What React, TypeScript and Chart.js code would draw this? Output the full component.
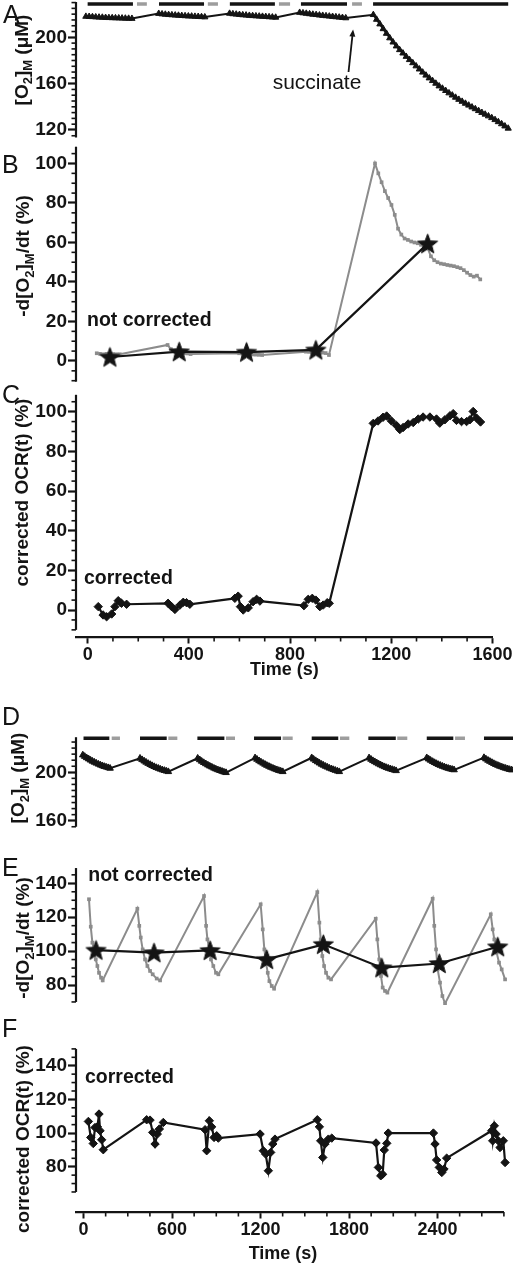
import React, { useEffect, useRef } from "react";
import { Chart, registerables } from "chart.js";

Chart.register(...registerables);

const FONT = '"Liberation Sans", Arial, Helvetica, sans-serif';
const INK = "#141414";
const GRAY = "#8c8c8c";
const BAR_GRAY = "#9d9d9d";

// ================= Panel A : [O2]M trace (time, µM) =================
const aTime = [
  -7, 6, 19, 32, 45, 58, 71, 84, 97, 110, 123, 136, 149, 162, 175,
  281, 294, 307, 320, 333, 346, 359, 372, 385, 398, 411, 424, 437, 450, 463,
  561, 574, 587, 600, 613, 626, 639, 652, 665, 678, 691, 704, 717, 730, 743,
  838, 851, 864, 877, 890, 903, 916, 929, 942, 955, 968, 981, 994, 1007, 1020,
  1129, 1142, 1155, 1168, 1181, 1194, 1207, 1220, 1233, 1246, 1259, 1272, 1285, 1298,
  1311, 1324, 1337, 1350, 1363, 1376, 1389, 1402, 1415, 1428, 1441, 1454, 1467, 1480,
  1493, 1506, 1519, 1532, 1545, 1558, 1571, 1584, 1597, 1610, 1623, 1636, 1649, 1662,
];
const aO2 = [
  218.0, 217.9, 217.7, 217.5, 217.3, 217.2, 217.0, 216.9, 216.8, 216.7, 216.6, 216.5, 216.4, 216.3, 216.2,
  220.5, 220.1, 219.8, 219.5, 219.3, 219.1, 218.9, 218.7, 218.5, 218.3, 218.2, 218.0, 217.9, 217.7, 217.5,
  220.6, 220.2, 219.9, 219.6, 219.3, 219.1, 218.8, 218.6, 218.4, 218.2, 218.0, 217.8, 217.6, 217.4, 217.2,
  221.4, 221.0, 220.6, 220.2, 219.8, 219.5, 219.1, 218.8, 218.5, 218.2, 217.9, 217.6, 217.3, 217.0, 216.7,
  219.5, 215.4, 211.4, 207.3, 203.3, 199.4, 195.8, 192.4, 189.2, 186.3, 183.4, 180.6, 177.9, 175.2,
  172.5, 169.8, 167.2, 164.8, 162.5, 160.2, 157.9, 155.9, 153.9, 151.9, 150.0, 148.1, 146.3, 144.6,
  142.9, 141.3, 139.7, 138.2, 136.6, 135.0, 133.5, 132.0, 130.5, 128.8, 127.0, 125.2, 123.3, 121.4,
];
const aBarOn = [[0, 179], [282, 460], [562, 740], [843, 1025], [1128, 1662]];
const aBarOff = [[195, 234], [475, 515], [756, 800], [1045, 1084]];
const aBarLevel = 228.8;
const aYTicks = [120, 160, 200];

// ================= Panel B : -d[O2]/dt not corrected (%) =================
const bRawTime = [
  36, 49, 62, 75, 88, 101, 114, 127,
  316, 329, 342, 355, 368, 381, 394, 407,
  599, 612, 625, 638, 651, 664, 677, 690,
  863, 876, 889, 902, 915, 928, 941, 954,
  1136, 1149, 1162, 1175, 1188, 1201, 1214, 1227, 1240, 1253, 1266, 1279, 1292, 1305, 1318, 1331, 1344,
  1357, 1370, 1383, 1396, 1409, 1422, 1435, 1448, 1461, 1474, 1487, 1500, 1513, 1526, 1539, 1552,
];
const bRawRate = [
  3.9, 3.6, 3.4, 3.6, 3.3, 3.5, 3.4, 3.4,
  8.1, 6.0, 5.0, 4.6, 4.3, 4.0, 3.8, 3.5,
  3.9, 3.7, 3.5, 3.4, 3.3, 3.2, 3.1, 3.0,
  4.7, 4.6, 4.5, 4.4, 4.3, 4.2, 4.0, 3.0,
  100, 95, 90.5, 86, 82.5, 79, 74, 67, 64, 62, 61.3, 60.5, 60, 59.6, 58.8, 58, 57,
  53, 51, 50, 49.3, 49, 48.6, 48.3, 48, 47.5, 47, 46, 44.7, 43.5, 42.7, 43.2, 41.3,
];
const bStarTime = [88, 362, 628, 902, 1344];
const bStarRate = [2.0, 4.7, 4.5, 5.6, 59.4];
const bYTicks = [0, 20, 40, 60, 80, 100];

// ================= Panel C : corrected OCR(t) (%) =================
const cTime = [
  42, 61, 75, 95, 108, 121, 134, 154,
  318, 332, 345, 365, 378, 391, 404,
  582, 595, 604, 615, 635, 654, 668, 681,
  855, 872, 888, 902, 918, 931, 947, 955,
  1129, 1148, 1168, 1182, 1201, 1221, 1234, 1247, 1267, 1287, 1307, 1326, 1353, 1379,
  1392, 1412, 1432, 1445, 1458, 1478, 1498, 1511, 1524, 1537, 1553,
];
const cOcr = [
  1.7, -2.5, -3.4, -2, 1.7, 4.7, 3.4, 2.9,
  3.4, 1.7, 0.3, 2.5, 3.9, 3.7, 2.9,
  5.9, 7, 1.7, 0, 1.1, 4.2, 5.4, 4.5,
  2.2, 5.4, 5.9, 5, 1.7, 2.5, 3.7, 3.4,
  94.1, 95.3, 97.2, 97.8, 95.3, 93, 91, 92, 93.8, 94.5, 96.3, 97.3, 97.3, 96.3,
  94.2, 95.9, 97.9, 99, 95.6, 95, 95, 95.9, 100.1, 96.8, 94.8,
];
const cXTicks = [0, 400, 800, 1200, 1600];
const cYTicks = [0, 20, 40, 60, 80, 100];

// ================= Panel D : [O2]M sawtooth =================
const dTime = [
  -5, 8, 21, 35, 48, 61, 74, 87, 101, 114, 127, 140, 153, 167, 180,
  383, 397, 411, 424, 438, 452, 465, 479, 493, 507, 520, 534, 548, 561, 575,
  774, 788, 801, 815, 829, 843, 856, 870, 884, 897, 911, 925, 939, 952, 966,
  1163, 1176, 1190, 1203, 1217, 1230, 1243, 1257, 1270, 1284, 1297, 1311, 1324, 1337, 1351,
  1547, 1560, 1574, 1587, 1600, 1614, 1627, 1641, 1654, 1667, 1681, 1694, 1707, 1721, 1734,
  1936, 1949, 1962, 1975, 1988, 2001, 2014, 2027, 2041, 2054, 2067, 2080, 2093, 2106, 2119,
  2327, 2340, 2353, 2367, 2380, 2393, 2406, 2419, 2433, 2446, 2459, 2472, 2485, 2499, 2512,
  2715, 2728, 2742, 2755, 2769, 2782, 2795, 2809, 2822, 2836, 2849, 2862, 2876, 2889, 2903,
];
const dO2 = [
  214.3, 213.1, 212.0, 211.0, 210.0, 209.1, 208.3, 207.5, 206.7, 206.0, 205.4, 204.8, 204.3, 203.8, 203.3,
  211.6, 210.4, 209.3, 208.3, 207.3, 206.4, 205.5, 204.7, 203.9, 203.3, 202.6, 202.0, 201.5, 201.0, 200.5,
  211.6, 210.3, 209.1, 208.0, 207.0, 206.0, 205.1, 204.3, 203.4, 202.7, 202.0, 201.4, 200.8, 200.2, 199.7,
  211.9, 210.7, 209.5, 208.5, 207.5, 206.6, 205.7, 204.9, 204.1, 203.4, 202.7, 202.1, 201.5, 201.0, 200.5,
  212.0, 210.8, 209.6, 208.6, 207.6, 206.6, 205.8, 204.9, 204.2, 203.4, 202.8, 202.2, 201.6, 201.0, 200.5,
  211.9, 210.7, 209.6, 208.7, 207.8, 206.9, 206.1, 205.3, 204.6, 203.9, 203.3, 202.8, 202.3, 201.8, 201.3,
  212.0, 210.9, 209.9, 208.9, 208.0, 207.2, 206.4, 205.7, 205.0, 204.4, 203.8, 203.3, 202.8, 202.4, 202.0,
  212.1, 211.0, 209.9, 209.0, 208.1, 207.2, 206.4, 205.7, 205.0, 204.4, 203.8, 203.3, 202.8, 202.3, 201.9,
];
const dBarOn = [[0, 175], [383, 564], [772, 955], [1156, 1339], [1547, 1727], [1931, 2117], [2327, 2507], [2715, 2912]];
const dBarOff = [[191, 247], [575, 636], [966, 1027], [1350, 1418], [1739, 1802], [2127, 2195], [2519, 2586]];
const dBarLevel = 228.1;
const dYTicks = [160, 200];

// ================= Panel E : -d[O2]/dt not corrected =================
const eRawTime = [
  37, 49, 60, 69, 83, 94, 105, 119, 130,
  365, 378, 388, 401, 417, 433, 451, 469, 496, 519,
  817, 831, 840, 853, 864, 880, 898, 914,
  1201, 1215, 1226, 1237, 1249, 1260, 1276, 1292,
  1585, 1599, 1608, 1619, 1631, 1644, 1660, 1678,
  1981, 1992, 2005, 2017, 2028, 2044, 2060,
  2367, 2378, 2390, 2401, 2417, 2433, 2451,
  2761, 2774, 2785, 2801, 2817, 2835, 2858,
];
const eRawRate = [
  130.6, 114.4, 105, 101, 95.1, 91.2, 87.2, 84.3, 82.7,
  125, 114.9, 108, 101, 95.1, 91.2, 88.3, 86.3, 83.8, 82.7,
  132.5, 114.9, 106.9, 101, 95.1, 91.2, 87.2, 86.3,
  127.6, 112.8, 101, 93.2, 87.2, 82.3, 79.4, 77.8,
  134.8, 116.8, 106.9, 97.1, 91.2, 87.2, 84.3, 83.3,
  119.1, 106.9, 95.1, 85.3, 78.5, 76.5, 75.5,
  130.9, 114.9, 101, 89.2, 81.4, 73.5, 69.1,
  121.7, 112.8, 106.9, 99.1, 93.2, 89.2, 83.3,
];
const eStarTime = [85, 478, 858, 1242, 1626, 2022, 2412, 2808];
const eStarRate = [100.6, 99.1, 100.4, 95.1, 104, 90.2, 92.7, 102.6];
const eYTicks = [80, 100, 120, 140];

// ================= Panel F : corrected OCR(t) =================
const fTime = [
  33, 49, 66, 78, 94, 105, 112, 123, 134,
  428, 451, 469, 485, 500, 514, 541,
  824, 835, 853, 869, 885, 903, 914,
  1197, 1219, 1235, 1253, 1269, 1283, 1298,
  1585, 1599, 1608, 1622, 1637, 1660, 1683,
  1983, 1999, 2015, 2028, 2039, 2056, 2066,
  2372, 2383, 2394, 2412, 2429, 2444, 2462,
  2767, 2774, 2785, 2797, 2812, 2824, 2846, 2858,
];
const fOcr = [
  106.9, 97.4, 93.8, 103.3, 103.7, 111.3, 101.4, 96, 90.1,
  107.9, 107.7, 100.4, 93.5, 99.4, 102.4, 106.3,
  102, 89.5, 107.3, 103.7, 97.4, 98.4, 97,
  99.4, 89.5, 87.5, 77.6, 88.5, 93.5, 96.4,
  107.9, 103.7, 95.4, 85.5, 93.5, 96.4, 97,
  94.1, 79.6, 74.6, 75.5, 89.9, 93.9, 100,
  100, 93.5, 84, 79.6, 76.6, 78.6, 85.1,
  101.4, 95.4, 104.3, 99.4, 95.4, 91.4, 95.4, 82.5,
];
const fXTicks = [0, 600, 1200, 1800, 2400];
const fYTicks = [80, 100, 120, 140];

// ================= helpers =================
type Pt = { x: number; y: number | null };
const pts = (xs: number[], ys: number[]): Pt[] => xs.map((x, i) => ({ x, y: ys[i] }));
const barPts = (segs: number[][], level: number): Pt[] =>
  segs.flatMap(([s, e]) => [{ x: s, y: level }, { x: e, y: level }, { x: e, y: null }]);

function makeStar(r: number): HTMLCanvasElement {
  const size = Math.ceil(r * 2 + 2);
  const c = document.createElement("canvas");
  c.width = size;
  c.height = size;
  const g = c.getContext("2d")!;
  g.translate(size / 2, size / 2 + r * 0.08);
  g.beginPath();
  for (let i = 0; i < 10; i++) {
    const rad = i % 2 === 0 ? r : r * 0.42;
    const a = -Math.PI / 2 + (i * Math.PI) / 5;
    g.lineTo(rad * Math.cos(a), rad * Math.sin(a));
  }
  g.closePath();
  g.fillStyle = INK;
  g.fill();
  g.strokeStyle = INK;
  g.lineWidth = 1;
  g.stroke();
  return c;
}

type Part = { t: string; sub?: boolean };
const O2M_TITLE: Part[] = [{ t: "[O" }, { t: "2", sub: true }, { t: "]" }, { t: "M", sub: true }, { t: " (μM)" }];
const RATE_TITLE: Part[] = [{ t: "-d[O" }, { t: "2", sub: true }, { t: "]" }, { t: "M", sub: true }, { t: "/dt (%)" }];
const OCR_TITLE: Part[] = [{ t: "corrected OCR(t) (%)" }];

function drawRich(ctx: CanvasRenderingContext2D, parts: Part[], bx: number, cy: number, size: number) {
  const main = `bold ${size}px ${FONT}`;
  const sub = `bold ${Math.round(size * 0.66)}px ${FONT}`;
  ctx.save();
  ctx.translate(bx, cy);
  ctx.rotate(-Math.PI / 2);
  ctx.textBaseline = "alphabetic";
  ctx.textAlign = "left";
  const widths = parts.map((p) => {
    ctx.font = p.sub ? sub : main;
    return ctx.measureText(p.t).width;
  });
  const total = widths.reduce((a, b) => a + b, 0);
  let x = -total / 2;
  parts.forEach((p, i) => {
    ctx.font = p.sub ? sub : main;
    ctx.fillText(p.t, x, p.sub ? size * 0.24 : 0);
    x += widths[i];
  });
  ctx.restore();
}

type TextItem = { t: string; x: number; y: number; font: string; align?: CanvasTextAlign };
type PanelCfg = {
  top: number;
  height: number;
  area: { top: number; bottom: number; right: number };
  x: { min: number; max: number; ticks?: number[]; minorStep?: number; minorMax?: number; axisHeight?: number };
  y: { min: number; max: number; ticks: number[]; minorStep: number; lineLo: number; lineHi: number };
  datasets: (star: HTMLCanvasElement) => any[];
  texts: TextItem[];
  yTitle: { parts: Part[]; bx: number; cy: number };
  arrow?: { x0: number; y0: number; x1: number; y1: number };
};

function makeDeco(cfg: PanelCfg) {
  return {
    id: "deco",
    afterDraw(chart: any) {
      const ctx = chart.ctx as CanvasRenderingContext2D;
      const xs = chart.scales.x;
      const ys = chart.scales.y;
      const { left, bottom } = chart.chartArea;
      const off = cfg.top;
      ctx.save();
      ctx.strokeStyle = INK;
      ctx.fillStyle = INK;
      ctx.lineCap = "butt";
      // y axis line
      ctx.lineWidth = 2.2;
      ctx.beginPath();
      ctx.moveTo(left, ys.getPixelForValue(cfg.y.lineHi));
      ctx.lineTo(left, ys.getPixelForValue(cfg.y.lineLo));
      ctx.stroke();
      // y minor ticks
      ctx.lineWidth = 1.6;
      const st = cfg.y.minorStep;
      const k0 = Math.ceil(cfg.y.lineLo / st - 1e-9);
      const k1 = Math.floor(cfg.y.lineHi / st + 1e-9);
      for (let k = k0; k <= k1; k++) {
        const v = k * st;
        if (cfg.y.ticks.includes(v)) continue;
        const p = ys.getPixelForValue(v);
        ctx.beginPath();
        ctx.moveTo(left - 4.5, p);
        ctx.lineTo(left, p);
        ctx.stroke();
      }
      // x minor ticks
      if (cfg.x.ticks && cfg.x.minorStep) {
        const n = Math.floor((cfg.x.minorMax || 0) / cfg.x.minorStep + 1e-9);
        for (let k = 0; k <= n; k++) {
          const v = k * cfg.x.minorStep;
          if (cfg.x.ticks.includes(v)) continue;
          const p = xs.getPixelForValue(v);
          ctx.beginPath();
          ctx.moveTo(p, bottom);
          ctx.lineTo(p, bottom + 4.5);
          ctx.stroke();
        }
      }
      // y title
      ctx.fillStyle = INK;
      drawRich(ctx, cfg.yTitle.parts, cfg.yTitle.bx, cfg.yTitle.cy - off, 19);
      // texts
      for (const t of cfg.texts) {
        ctx.font = t.font;
        ctx.textAlign = t.align || "left";
        ctx.textBaseline = "alphabetic";
        ctx.fillText(t.t, t.x, t.y - off);
      }
      // arrow
      if (cfg.arrow) {
        const ax0 = xs.getPixelForValue(cfg.arrow.x0);
        const ay0 = ys.getPixelForValue(cfg.arrow.y0);
        const ax1 = xs.getPixelForValue(cfg.arrow.x1);
        const ay1 = ys.getPixelForValue(cfg.arrow.y1);
        const ang = Math.atan2(ay1 - ay0, ax1 - ax0);
        const hl = 7;
        const hw = 3;
        ctx.lineWidth = 1.8;
        ctx.beginPath();
        ctx.moveTo(ax0, ay0);
        ctx.lineTo(ax1 - Math.cos(ang) * hl * 0.8, ay1 - Math.sin(ang) * hl * 0.8);
        ctx.stroke();
        ctx.beginPath();
        ctx.moveTo(ax1, ay1);
        ctx.lineTo(ax1 - Math.cos(ang) * hl - Math.sin(ang) * hw, ay1 - Math.sin(ang) * hl + Math.cos(ang) * hw);
        ctx.lineTo(ax1 - Math.cos(ang) * hl + Math.sin(ang) * hw, ay1 - Math.sin(ang) * hl - Math.cos(ang) * hw);
        ctx.closePath();
        ctx.fill();
      }
      ctx.restore();
    },
  };
}

function buildConfig(cfg: PanelCfg, star: HTMLCanvasElement): any {
  const hasX = !!cfg.x.ticks;
  const xFont = { family: FONT, size: 18, weight: "bold" as const };
  const yFont = { family: FONT, size: 19, weight: "bold" as const };
  return {
    type: "line",
    data: { datasets: cfg.datasets(star) },
    options: {
      responsive: false,
      maintainAspectRatio: false,
      animation: false,
      devicePixelRatio: 1,
      events: [],
      layout: {
        autoPadding: false,
        padding: {
          top: cfg.area.top - cfg.top,
          bottom: hasX ? 0 : cfg.top + cfg.height - cfg.area.bottom,
          left: 0,
          right: 513 - cfg.area.right,
        },
      },
      plugins: { legend: { display: false }, tooltip: { enabled: false }, title: { display: false } },
      scales: {
        x: {
          type: "linear",
          position: "bottom",
          min: cfg.x.min,
          max: cfg.x.max,
          display: hasX,
          afterBuildTicks: (s: any) => {
            if (cfg.x.ticks) s.ticks = cfg.x.ticks.map((v) => ({ value: v }));
          },
          afterFit: (s: any) => {
            s.height = cfg.x.axisHeight || 0;
            s.paddingLeft = 0;
            s.paddingRight = 0;
            s.paddingTop = 0;
            s.paddingBottom = 0;
          },
          border: { display: true, color: INK, width: 2.2 },
          grid: { display: true, drawOnChartArea: false, drawTicks: true, tickLength: 6.5, tickWidth: 2, tickColor: INK },
          ticks: { font: xFont, color: INK, padding: 1, maxRotation: 0, minRotation: 0, autoSkip: false, callback: (v: any) => String(v) },
          title: { display: false },
        },
        y: {
          type: "linear",
          position: "left",
          min: cfg.y.min,
          max: cfg.y.max,
          afterBuildTicks: (s: any) => {
            s.ticks = cfg.y.ticks.map((v) => ({ value: v }));
          },
          afterFit: (s: any) => {
            s.width = 76;
            s.paddingLeft = 0;
            s.paddingRight = 0;
            s.paddingTop = 0;
            s.paddingBottom = 0;
          },
          border: { display: false },
          grid: { display: true, drawOnChartArea: false, drawTicks: true, tickLength: 8, tickWidth: 2.2, tickColor: INK },
          ticks: { font: yFont, color: INK, padding: 1, autoSkip: false, callback: (v: any) => String(v) },
          title: { display: false },
        },
      },
    },
    plugins: [makeDeco(cfg)],
  };
}

const letter = (t: string, x: number, y: number): TextItem => ({ t, x, y, font: `25px ${FONT}` });
const note = (t: string, x: number, y: number): TextItem => ({ t, x, y, font: `bold 19.5px ${FONT}` });
const timeTitle = (x: number, y: number): TextItem => ({ t: "Time (s)", x, y, font: `bold 18px ${FONT}`, align: "center" });

const blackLine = (data: Pt[], extra: any = {}) => ({
  data,
  borderColor: INK,
  backgroundColor: INK,
  borderWidth: 2.2,
  pointBackgroundColor: INK,
  pointBorderColor: INK,
  pointBorderWidth: 1,
  tension: 0,
  clip: false,
  ...extra,
});
const grayLine = (data: Pt[]) => ({
  data,
  borderColor: GRAY,
  backgroundColor: GRAY,
  borderWidth: 2,
  pointStyle: "rect",
  pointRadius: 2.6,
  pointBackgroundColor: GRAY,
  pointBorderColor: GRAY,
  pointBorderWidth: 0,
  tension: 0,
  clip: false,
});
const bar = (segs: number[][], level: number, color: string) => ({
  data: barPts(segs, level),
  borderColor: color,
  borderWidth: 3.6,
  pointRadius: 0,
  spanGaps: false,
  borderCapStyle: "butt",
  clip: false,
});

const PANELS: PanelCfg[] = [
  {
    top: 0,
    height: 142,
    area: { top: 2, bottom: 137.5, right: 513 },
    x: { min: -46, max: 1681 },
    y: { min: 113.5, max: 230.5, ticks: aYTicks, minorStep: 5, lineLo: 113.5, lineHi: 230.5 },
    datasets: () => [
      blackLine(pts(aTime, aO2), { borderWidth: 2, pointStyle: "triangle", pointRadius: 3.6 }),
      bar(aBarOn, aBarLevel, INK),
      bar(aBarOff, aBarLevel, BAR_GRAY),
    ],
    texts: [letter("A", 3, 23.3), { t: "succinate", x: 317, y: 89, font: `21px ${FONT}`, align: "center" }],
    yTitle: { parts: O2M_TITLE, bx: 27.7, cy: 60 },
    arrow: { x0: 1031, y0: 170.05, x1: 1049, y1: 206.75 },
  },
  {
    top: 142,
    height: 242,
    area: { top: 146.7, bottom: 381.7, right: 492.4 },
    x: { min: -46, max: 1600 },
    y: { min: -10.5, max: 108.5, ticks: bYTicks, minorStep: 5, lineLo: -10.5, lineHi: 108.5 },
    datasets: (star) => [
      blackLine(pts(bStarTime, bStarRate), { pointStyle: star, pointRadius: 11 }),
      grayLine(pts(bRawTime, bRawRate)),
    ],
    texts: [letter("B", 2, 173.3), note("not corrected", 87, 326)],
    yTitle: { parts: RATE_TITLE, bx: 29.3, cy: 256 },
  },
  {
    top: 384,
    height: 298,
    area: { top: 394.8, bottom: 637, right: 492.4 },
    x: { min: -46, max: 1600, ticks: cXTicks, minorStep: 100, minorMax: 1600, axisHeight: 45 },
    y: { min: -13.6, max: 108.5, ticks: cYTicks, minorStep: 5, lineLo: -10, lineHi: 108.5 },
    datasets: () => [blackLine(pts(cTime, cOcr), { pointStyle: "rectRot", pointRadius: 4.2 })],
    texts: [letter("C", 2, 403.3), note("corrected", 84, 584), timeTitle(284.4, 675)],
    yTitle: { parts: OCR_TITLE, bx: 28, cy: 492.5 },
  },
  {
    top: 682,
    height: 148,
    area: { top: 737.2, bottom: 826.75, right: 513 },
    x: { min: -51, max: 2911.7 },
    y: { min: 155, max: 229, ticks: dYTicks, minorStep: 5, lineLo: 155, lineHi: 229 },
    datasets: () => [
      blackLine(pts(dTime, dO2), { borderWidth: 2, pointStyle: "triangle", pointRadius: 3.8 }),
      bar(dBarOn, dBarLevel, INK),
      bar(dBarOff, dBarLevel, BAR_GRAY),
    ],
    texts: [letter("D", 2, 725)],
    yTitle: { parts: O2M_TITLE, bx: 24.3, cy: 778 },
  },
  {
    top: 830,
    height: 175,
    area: { top: 868.05, bottom: 1001.95, right: 513 },
    x: { min: -51, max: 2911.7 },
    y: { min: 70, max: 149, ticks: eYTicks, minorStep: 5, lineLo: 70, lineHi: 149 },
    datasets: (star) => [
      blackLine(pts(eStarTime, eStarRate), { pointStyle: star, pointRadius: 11 }),
      grayLine(pts(eRawTime, eRawRate)),
    ],
    texts: [letter("E", 2, 876), note("not corrected", 88.3, 881)],
    yTitle: { parts: RATE_TITLE, bx: 29, cy: 938 },
  },
  {
    top: 1005,
    height: 259,
    area: { top: 1048.9, bottom: 1212, right: 503.9 },
    x: { min: -51, max: 2850, ticks: fXTicks, minorStep: 150, minorMax: 2850, axisHeight: 52 },
    y: { min: 53.1, max: 150, ticks: fYTicks, minorStep: 5, lineLo: 65, lineHi: 150 },
    datasets: () => [blackLine(pts(fTime, fOcr), { pointStyle: "rectRot", pointRadius: 4.2 })],
    texts: [letter("F", 2, 1036.5), note("corrected", 85, 1083.3), timeTitle(283, 1259)],
    yTitle: { parts: OCR_TITLE, bx: 29.3, cy: 1139 },
  },
];

function Panel({ cfg }: { cfg: PanelCfg }) {
  const ref = useRef<HTMLCanvasElement>(null);
  useEffect(() => {
    const canvas = ref.current;
    if (!canvas) return;
    const star = makeStar(10.5);
    const chart = new Chart(canvas, buildConfig(cfg, star));
    return () => chart.destroy();
  }, [cfg]);
  return (
    <canvas
      ref={ref}
      width={513}
      height={cfg.height}
      style={{ position: "absolute", left: 0, top: cfg.top, width: 513, height: cfg.height, display: "block" }}
    />
  );
}

export default function App() {
  return (
    <div style={{ position: "absolute", left: 0, top: 0, width: 513, height: 1264, background: "#ffffff", overflow: "hidden" }}>
      {PANELS.map((p) => (
        <Panel key={p.top} cfg={p} />
      ))}
    </div>
  );
}
